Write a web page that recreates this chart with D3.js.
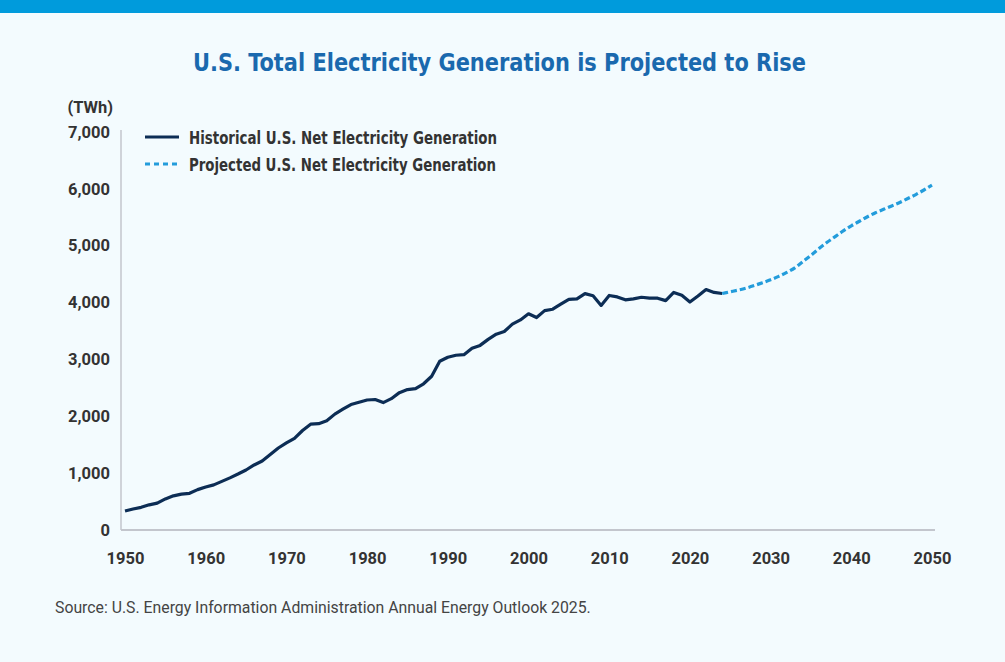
<!DOCTYPE html>
<html>
<head>
<meta charset="utf-8">
<script src="https://cdn.jsdelivr.net/npm/d3@7"></script>
<style>
  html, body { margin: 0; padding: 0; background: #f3fbfe; }
  svg { display: block; }
</style>
</head>
<body>
<div id="chart"></div>
<script>
// historical net generation, TWh
const histYears = d3.range(1950, 2025);
const histValues = [
  334, 370, 399, 443, 472, 547, 601, 632, 645, 710,
  756, 794, 855, 917, 984, 1055, 1144, 1214, 1329, 1442,
  1532, 1613, 1750, 1861, 1870, 1921, 2038, 2124, 2206, 2247,
  2286, 2295, 2241, 2310, 2416, 2470, 2487, 2572, 2704, 2967,
  3038, 3073, 3084, 3197, 3247, 3353, 3444, 3492, 3620, 3695,
  3802, 3737, 3858, 3883, 3971, 4055, 4065, 4157, 4119, 3950,
  4125, 4100, 4048, 4066, 4094, 4078, 4077, 4034, 4178, 4128,
  4010, 4116, 4230, 4178, 4160
];
// projection
const projYears = d3.range(2024, 2051);
const projValues = [
  4160, 4190, 4220, 4255, 4300, 4350, 4400, 4460, 4530, 4610,
  4720, 4830, 4950, 5060, 5160, 5260, 5350, 5430, 5510, 5580,
  5640, 5700, 5760, 5830, 5900, 5980, 6065
];
const yTicks = [0, 1000, 2000, 3000, 4000, 5000, 6000, 7000];
const xTicks = [1950, 1960, 1970, 1980, 1990, 2000, 2010, 2020, 2030, 2040, 2050];
const legendLabels = ["Historical U.S. Net Electricity Generation", "Projected U.S. Net Electricity Generation"];

const w = 1005, h = 662;
const colors = { hist: "#0c2d55", proj: "#239cdb", text: "#333333", axis: "#c3c6cd", title: "#1a69ae", band: "#009bdc" };
const condensed = "'Liberation Sans Narrow', 'DejaVu Sans Condensed', 'Roboto', sans-serif";
const regular = "'Roboto', 'Liberation Sans', sans-serif";

const svg = d3.select("#chart").append("svg")
  .attr("width", w)
  .attr("height", h);

svg.append("rect").attr("width", w).attr("height", h).attr("fill", "#f3fbfe");
svg.append("rect").attr("width", w).attr("height", 13).attr("fill", colors.band);

// title squeezed to the condensed width of the original
svg.append("text")
  .attr("x", 193).attr("y", 71)
  .attr("font-family", condensed)
  .attr("font-weight", "bold")
  .attr("font-size", 25)
  .attr("textLength", 613)
  .attr("lengthAdjust", "spacingAndGlyphs")
  .attr("fill", colors.title)
  .text("U.S. Total Electricity Generation is Projected to Rise");

const margin = { left: 125, right: 73, top: 132, bottom: 132 };
const axisX = 121;

const xScale = d3.scaleLinear().domain([1950, 2050]).range([margin.left, w - margin.right]);
const yScale = d3.scaleLinear().domain([0, 7000]).range([h - margin.bottom, margin.top]);

// axis lines
svg.append("line")
  .attr("x1", axisX).attr("x2", axisX)
  .attr("y1", yScale(7000) - 2).attr("y2", yScale(0))
  .attr("stroke", colors.axis).attr("stroke-width", 1.5);
svg.append("line")
  .attr("x1", axisX).attr("x2", xScale(2050) + 3)
  .attr("y1", yScale(0)).attr("y2", yScale(0))
  .attr("stroke", colors.axis).attr("stroke-width", 2);

const yAxis = svg.append("g")
  .attr("transform", `translate(${axisX - 11}, 0)`)
  .call(d3.axisLeft(yScale).tickValues(yTicks).tickSize(0).tickPadding(0).tickFormat(d3.format(",")));
yAxis.select(".domain").remove();
yAxis.selectAll("text")
  .attr("font-family", regular)
  .attr("font-weight", "bold")
  .attr("font-size", 16.5)
  .attr("fill", colors.text);

const xAxis = svg.append("g")
  .attr("transform", `translate(0, ${yScale(0) + 22})`)
  .call(d3.axisBottom(xScale).tickValues(xTicks).tickSize(0).tickPadding(0).tickFormat(d3.format("d")));
xAxis.select(".domain").remove();
xAxis.selectAll("text")
  .attr("font-family", regular)
  .attr("font-weight", "bold")
  .attr("font-size", 16.5)
  .attr("fill", colors.text);

svg.append("text")
  .attr("x", 113).attr("y", 113)
  .attr("text-anchor", "end")
  .attr("font-family", regular)
  .attr("font-weight", "bold")
  .attr("font-size", 16.5)
  .attr("fill", colors.text)
  .text("(TWh)");

const line = d3.line()
  .x((d) => xScale(d.year))
  .y((d) => yScale(d.value));

const hist = histYears.map((y, i) => ({ year: y, value: histValues[i] }));
const proj = projYears.map((y, i) => ({ year: y, value: projValues[i] }));

svg.append("path")
  .datum(hist)
  .attr("fill", "none")
  .attr("stroke", colors.hist)
  .attr("stroke-width", 3.2)
  .attr("stroke-linejoin", "round")
  .attr("d", line);

svg.append("path")
  .datum(proj)
  .attr("fill", "none")
  .attr("stroke", colors.proj)
  .attr("stroke-width", 3.2)
  .attr("stroke-dasharray", "6 3")
  .attr("d", line.curve(d3.curveMonotoneX));

// legend
const legendWidths = [308, 307];
const legend = svg.append("g").attr("transform", "translate(145, 137)");
legendLabels.forEach((label, i) => {
  const g = legend.append("g").attr("transform", `translate(0, ${i * 27})`);
  g.append("line")
    .attr("x1", 0).attr("x2", 34)
    .attr("stroke", i === 0 ? colors.hist : colors.proj)
    .attr("stroke-width", 3.2)
    .attr("stroke-dasharray", i === 0 ? null : "5 4");
  g.append("text")
    .attr("x", 44).attr("y", 6.5)
    .attr("font-family", condensed)
    .attr("font-weight", "bold")
    .attr("font-size", 18)
    .attr("textLength", legendWidths[i])
    .attr("lengthAdjust", "spacingAndGlyphs")
    .attr("fill", colors.text)
    .text(label);
});

svg.append("text")
  .attr("x", 55).attr("y", 613)
  .attr("font-family", regular)
  .attr("font-size", 15.8)
  .attr("fill", "#444444")
  .text("Source: U.S. Energy Information Administration Annual Energy Outlook 2025.");
</script>
</body>
</html>
